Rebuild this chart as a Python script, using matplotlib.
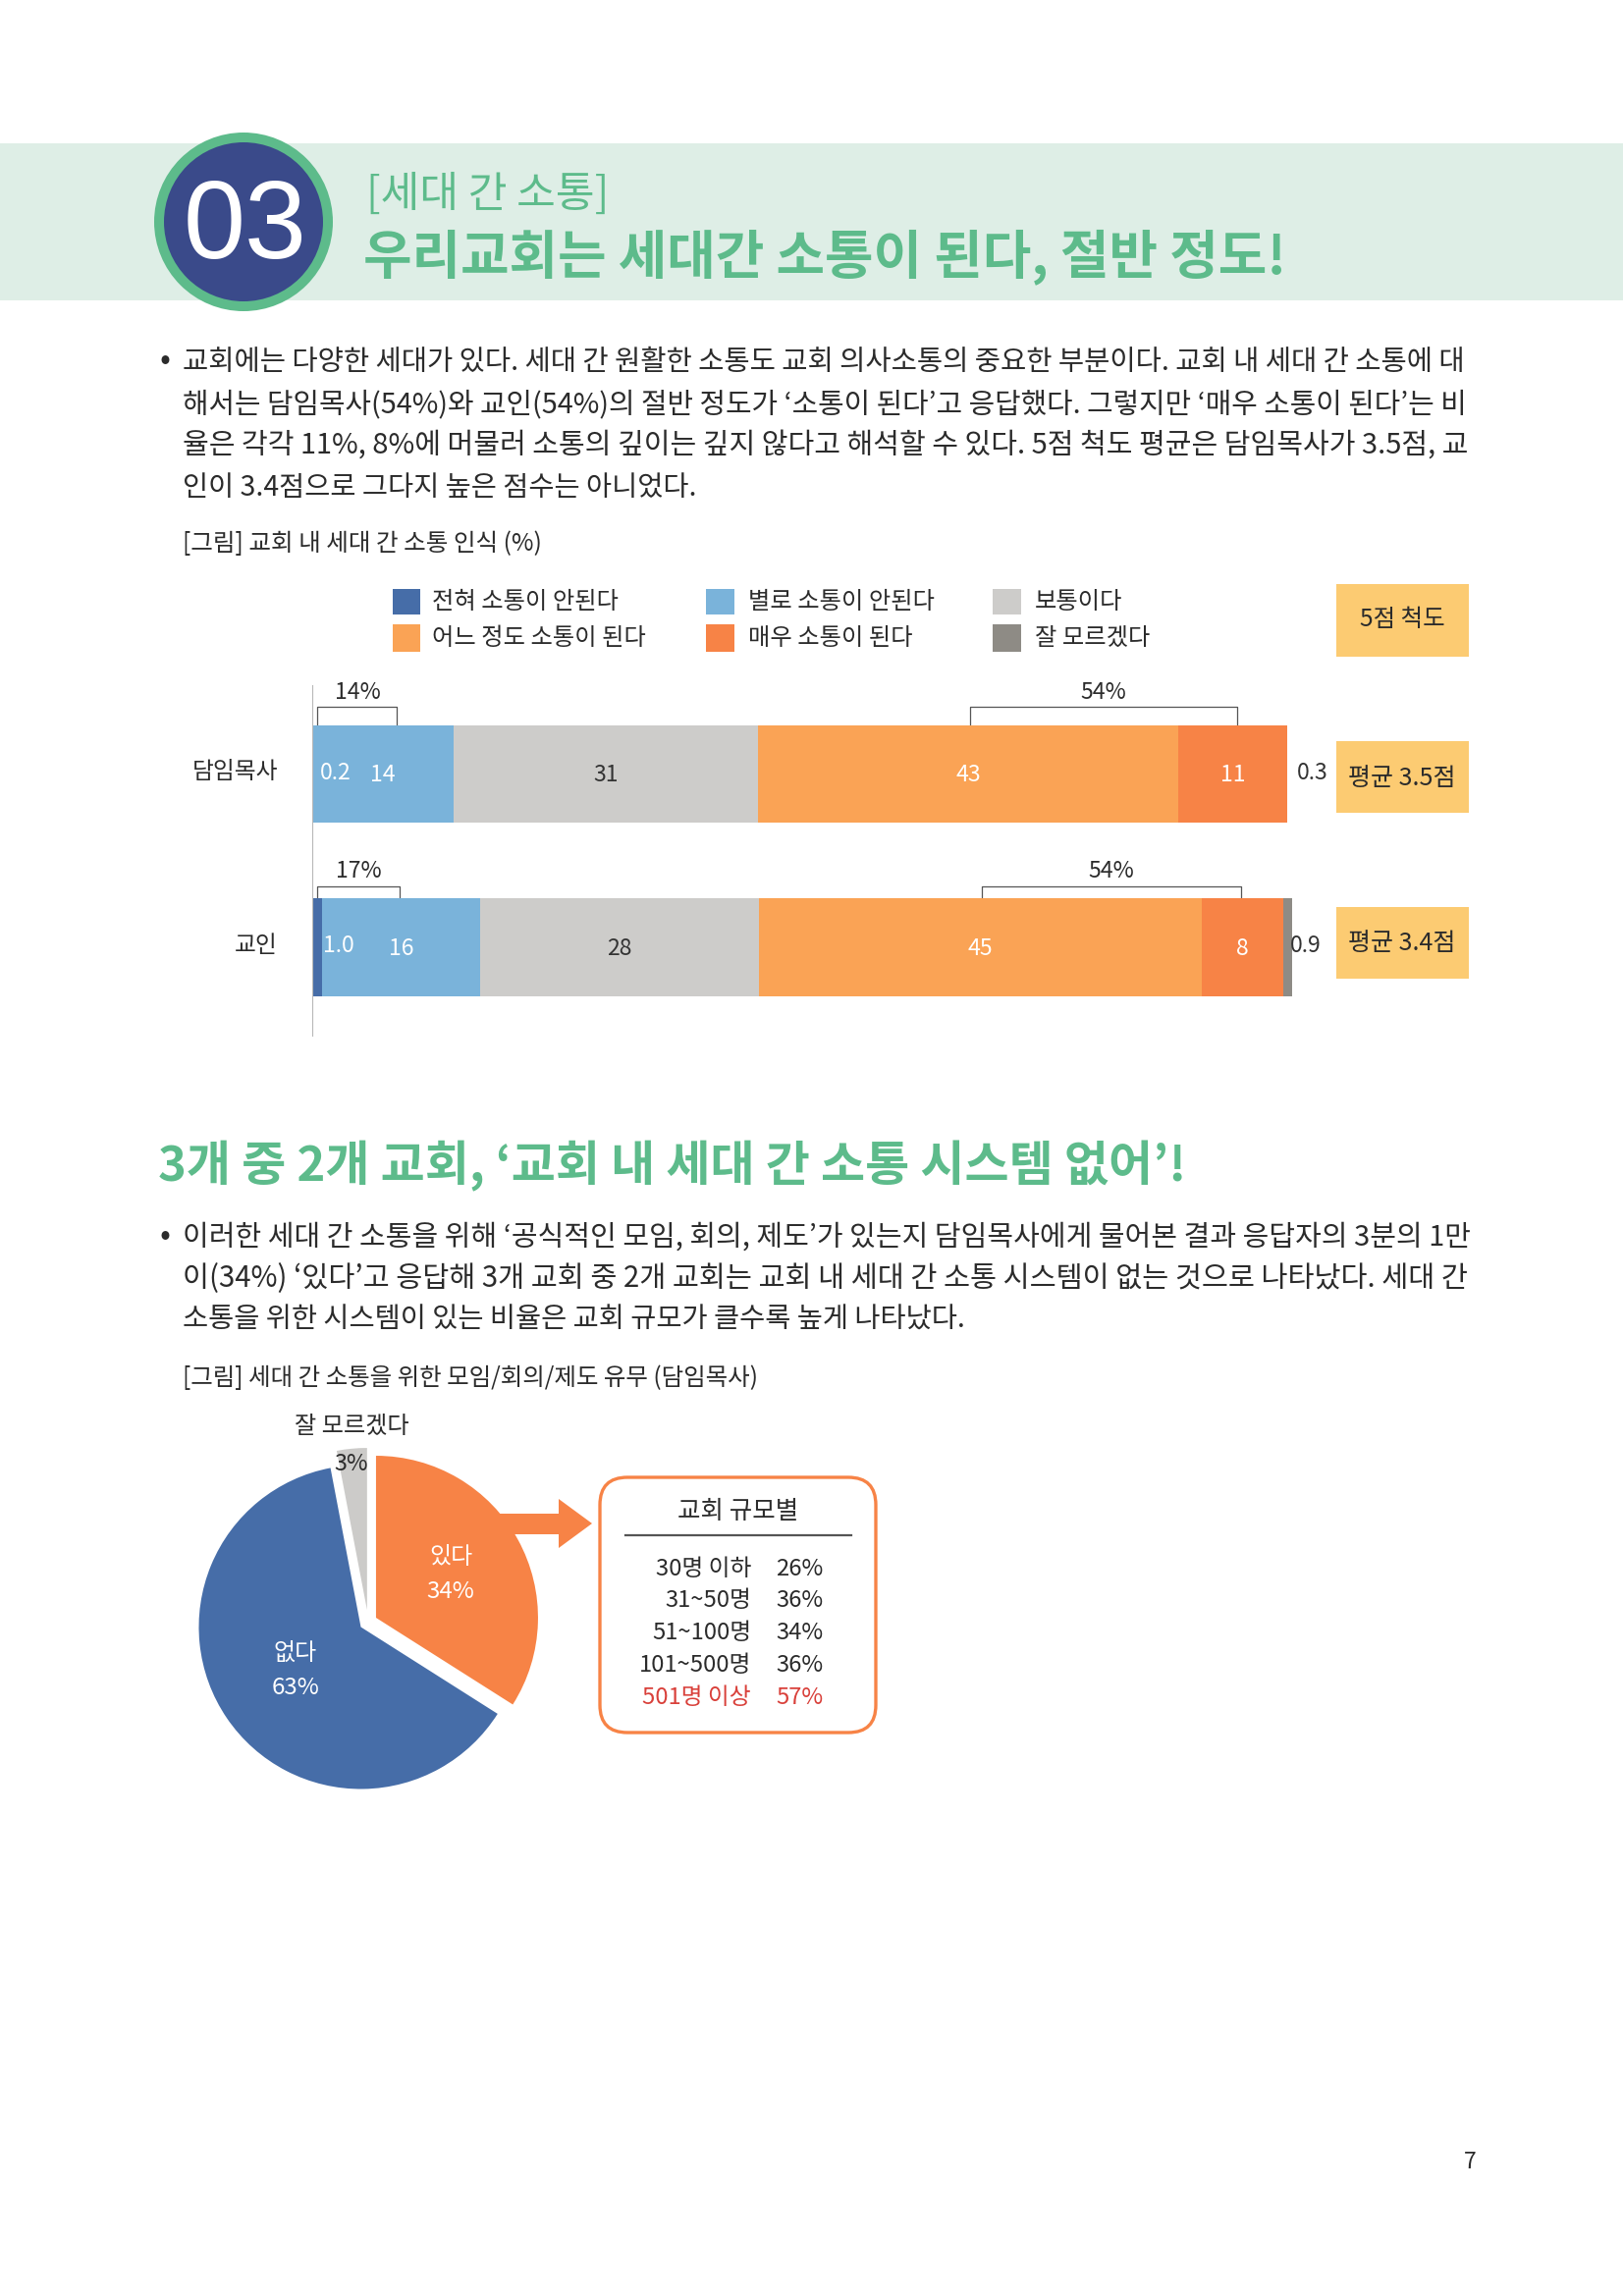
import matplotlib
matplotlib.use("Agg")
import matplotlib.pyplot as plt
from matplotlib.patches import Rectangle, Circle, FancyBboxPatch, Polygon

plt.rcParams['font.family'] = ['Noto Sans CJK KR', 'DejaVu Sans']

W, H = 1653, 2339
GREEN = '#5DBB8B'
BAND = '#DEEEE6'
NAVY = '#3A4A8A'
INK = '#2B2B2B'
YELLOW = '#FCCB72'

# ---- data ----
legend_labels = ['전혀 소통이 안된다', '별로 소통이 안된다', '보통이다',
                 '어느 정도 소통이 된다', '매우 소통이 된다', '잘 모르겠다']
seg_colors = ['#466DA8', '#7AB3DA', '#CDCCCA', '#FAA355', '#F78346', '#8E8B85']
groups = ['담임목사', '교인']
pastor = [0.2, 14.3, 30.9, 42.6, 11.0, 0.3]
member = [1.0, 16.0, 28.3, 44.8, 8.3, 0.9]
group_means = ['평균 3.5점', '평균 3.4점']
bracket_low = ['14%', '17%']
bracket_high = ['54%', '54%']

pie_labels = ['있다', '없다', '잘 모르겠다']
pie_values = [34, 63, 3]
pie_colors = ['#F78346', '#466DA8', '#CCCBC9']

size_names = ['30명 이하', '31~50명', '51~100명', '101~500명', '501명 이상']
size_values = [26, 36, 34, 36, 57]

body1 = ['교회에는 다양한 세대가 있다. 세대 간 원활한 소통도 교회 의사소통의 중요한 부분이다. 교회 내 세대 간 소통에 대',
         '해서는 담임목사(54%)와 교인(54%)의 절반 정도가 ‘소통이 된다’고 응답했다. 그렇지만 ‘매우 소통이 된다’는 비',
         '율은 각각 11%, 8%에 머물러 소통의 깊이는 깊지 않다고 해석할 수 있다. 5점 척도 평균은 담임목사가 3.5점, 교',
         '인이 3.4점으로 그다지 높은 점수는 아니었다.']
body2 = ['이러한 세대 간 소통을 위해 ‘공식적인 모임, 회의, 제도’가 있는지 담임목사에게 물어본 결과 응답자의 3분의 1만',
         '이(34%) ‘있다’고 응답해 3개 교회 중 2개 교회는 교회 내 세대 간 소통 시스템이 없는 것으로 나타났다. 세대 간',
         '소통을 위한 시스템이 있는 비율은 교회 규모가 클수록 높게 나타났다.']

# ---- page ----
fig = plt.figure(figsize=(W / 100, H / 100), dpi=100, facecolor='white')
page = fig.add_axes([0, 0, 1, 1], zorder=0)
page.set_xlim(0, W)
page.set_ylim(H, 0)
page.axis('off')
top_ax = fig.add_axes([0, 0, 1, 1], zorder=10)
top_ax.set_xlim(0, W)
top_ax.set_ylim(H, 0)
top_ax.axis('off')
renderer = fig.canvas.get_renderer()


def px(size):
    return size * 72 / 100


def T(x, y, s, size=24, color=INK, ha='left', weight='normal', fit=None, family=None):
    kw = {'family': family} if family else {}
    t = top_ax.text(x, y, s, fontsize=px(size), color=color, ha=ha, va='center',
                    fontweight=weight, **kw)
    if fit is not None:
        w = t.get_window_extent(renderer).width
        t.set_fontsize(t.get_fontsize() * fit / w)
    t.set_y(y + 0.1 * t.get_fontsize() * 100 / 72)
    return t


def box(x0, y0, x1, y1, c, z=1):
    page.add_patch(Rectangle((x0, y0), x1 - x0, y1 - y0, fc=c, ec='none', zorder=z))


# header
box(0, 146, W, 306, BAND)
page.add_patch(Circle((248, 226), 91, fc=GREEN, ec='none', zorder=2))
page.add_patch(Circle((248, 226), 81, fc=NAVY, ec='none', zorder=3))
T(250, 223, '03', color='white', ha='center', size=122, fit=126, family='Liberation Sans')
T(373, 195, '[세대 간 소통]', color=GREEN, weight='light', fit=247)
T(370, 256, '우리교회는 세대간 소통이 된다, 절반 정도!', color=GREEN, weight='bold', fit=943)

# body 1
T(163, 364, '•', size=32)
for y, s, w in zip([366, 409, 451, 494], body1, [1311, 1311, 1311, 524]):
    T(186, y, s, weight='light', fit=w)
T(186, 552, '[그림] 교회 내 세대 간 소통 인식 (%)', weight='light', fit=366)

# legend
leg_x = [400, 719, 1011]
leg_tx = [440, 762, 1054]
leg_y = [(600, 626), (636, 664)]
for i, (lab, col) in enumerate(zip(legend_labels, seg_colors)):
    c = i % 3
    r = i // 3
    w = {0: 28, 1: 29, 2: 29}[c]
    box(leg_x[c], leg_y[r][0], leg_x[c] + w, leg_y[r][1], col)
    T(leg_tx[c], [611, 648][r], lab, size=24.3, weight='light')

# yellow boxes
for y0, y1 in [(595, 669), (755, 828), (924, 997)]:
    box(1361, y0, 1496, y1, YELLOW)
T(1428, 629, '5점 척도', size=24.5, ha='center', weight='light')
T(1428, 790, group_means[0], size=25, ha='center', weight='light')
T(1428, 959, group_means[1], size=25, ha='center', weight='light')

# stacked bars
bar_left, bar_right = 318, 318 + 1005
top, bottom = 698, 1055
ax = fig.add_axes([bar_left / W, 1 - bottom / H, (bar_right - bar_left) / W, (bottom - top) / H], zorder=1)
ax.patch.set_alpha(0)
ax.set_xlim(0, 100)
unit = 176.5
ax.set_ylim((1055 - 788.5) / unit, (698 - 788.5) / unit)
for yi, vals in enumerate([pastor, member]):
    left = 0
    for j, v in enumerate(vals):
        if v < 0.5:      # too thin to show in the reference; only labelled
            continue
        ax.barh(yi, v, left=left, height=0.565, color=seg_colors[j], linewidth=0)
        if 1.0 < v:
            col = 'white' if j in (1, 3, 4) else '#333333'
            ax.text(left + v / 2, yi + 0.006, f'{v:.0f}', ha='center', va='center',
                    fontsize=px(23), color=col, fontweight='light')
        left += v
ax.set_xticks([])
ax.set_yticks([])
for s in ('top', 'right', 'bottom'):
    ax.spines[s].set_visible(False)
ax.spines['left'].set_color('#B8B8B8')
ax.spines['left'].set_linewidth(0.8)

T(283, 784, groups[0], size=23.8, ha='right', weight='light')
T(283, 961, groups[1], size=23.8, ha='right', weight='light')
T(342, 785, f'{pastor[0]:g}', color='white', size=23, ha='center', weight='light')
T(1337, 785, f'{pastor[5]:g}', color='#333333', size=23, ha='center', weight='light')
T(345, 961, f'{member[0]:.1f}', color='white', size=23, ha='center', weight='light')
T(1330, 961, f'{member[5]:g}', color='#333333', size=23, ha='center', weight='light')


def bracket(x0, x1, ytop, ybot):
    page.plot([x0, x0, x1, x1], [ybot, ytop, ytop, ybot], color='#555555', lw=0.9, zorder=2)


bracket(323, 404, 720, 738)
bracket(988, 1260, 720, 738)
bracket(323, 407, 903, 916)
bracket(1000, 1264, 903, 916)
T(364, 703, bracket_low[0], size=23, ha='center', weight='light')
T(1124, 703, bracket_high[0], size=23, ha='center', weight='light')
T(365, 885, bracket_low[1], size=23, ha='center', weight='light')
T(1132, 885, bracket_high[1], size=23, ha='center', weight='light')

# section 2
T(161, 1183, '3개 중 2개 교회, ‘교회 내 세대 간 소통 시스템 없어’!', color=GREEN, weight='bold', fit=1050)
T(163, 1256, '•', size=32)
for y, s, w in zip([1258, 1300, 1342], body2, [1312, 1312, 799]):
    T(186, y, s, weight='light', fit=w)
T(186, 1402, '[그림] 세대 간 소통을 위한 모임/회의/제도 유무 (담임목사)', weight='light', fit=588)

# pie
cx, cy, R = 375, 1652.4, 165
span = R * 1.25
pax = fig.add_axes([(cx - span) / W, 1 - (cy + span) / H, 2 * span / W, 2 * span / H], zorder=2)
pax.pie(pie_values, colors=pie_colors, startangle=90, counterclock=False,
        explode=[0.055, 0.055, 0.075], radius=1)
pax.set_xlim(-1.25, 1.25)
pax.set_ylim(-1.25, 1.25)
pax.patch.set_alpha(0)
pax.set_aspect('equal')

T(459, 1584, pie_labels[0], color='white', size=24, ha='center', weight='light')
T(459, 1619, f'{pie_values[0]}%', color='white', size=24, ha='center', weight='light')
T(301, 1682, pie_labels[1], color='white', size=24, ha='center', weight='light')
T(301, 1717, f'{pie_values[1]}%', color='white', size=24, ha='center', weight='light')
T(358, 1489, f'{pie_values[2]}%', size=23.5, ha='center', weight='light')
T(358, 1451, pie_labels[2], size=24.2, ha='center', weight='light')

# arrow and rounded box
page.add_patch(Polygon([(500, 1542), (569, 1542), (569, 1527), (603, 1552), (569, 1577), (569, 1563), (500, 1563)],
                       fc='#F78346', ec='none', zorder=1))
page.add_patch(FancyBboxPatch((611 + 28, 1505 + 28), 281 - 56, 260 - 56, boxstyle='round,pad=28,rounding_size=28',
                              fc='white', ec='#F78346', lw=2.4, zorder=2))
T(752, 1537, '교회 규모별', size=25.5, ha='center', weight='light')
page.plot([637, 867], [1564, 1564], color='#555555', lw=1.6, zorder=3)
for y, name, val in zip([1596, 1628, 1661, 1694, 1727], size_names, size_values):
    col = '#D9403A' if name == size_names[-1] else INK
    T(765, y, name, color=col, size=23.8, ha='right', weight='light')
    T(838, y, f'{val}%', color=col, size=23.8, ha='right', weight='light')

T(1497, 2200, '7', size=23, ha='center', weight='light')

fig.savefig('out.png', dpi=100, facecolor='white')
